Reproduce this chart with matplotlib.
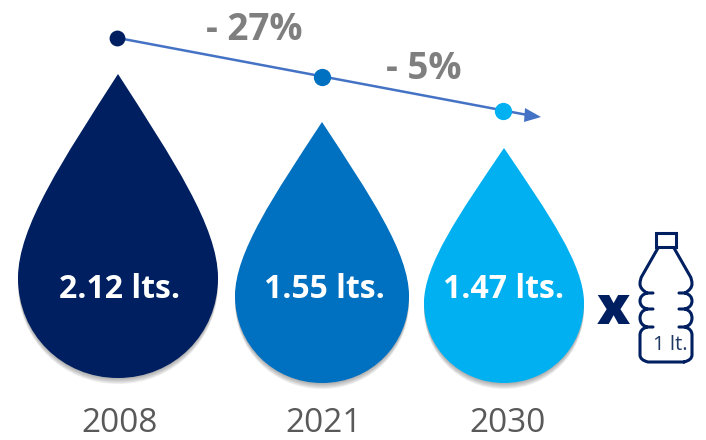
import matplotlib.pyplot as plt
from matplotlib.patches import PathPatch, Polygon
from matplotlib.path import Path

plt.rcParams['font.family'] = ['Open Sans', 'DejaVu Sans']

years = ['2008', '2021', '2030']
litres = ['2.12 lts.', '1.55 lts.', '1.47 lts.']
changes = ['- 27%', '- 5%']
colors = ['#001f60', '#0070c0', '#00b0f0']
line_color = '#4472c4'
navy = '#001f60'

# drop outlines in picture pixels: centre x, tip y, bottom y, half width
drop_x = [118, 322, 504]
drop_top = [74, 122, 148]
drop_bottom = [378, 383, 383]
drop_half = [100, 87, 80]
dot_y = [38, 77, 111]
label_x = [120, 324, 504]
year_x = [119.5, 324, 508]


def drop_path(cx, top, bottom, half):
    belly = bottom - half
    k = half * 0.56
    up = (belly - top) * 0.25
    c1 = (belly - top) * 0.42
    verts = [
        (cx, top),
        (cx + half * 0.55, top + c1), (cx + half, belly - up), (cx + half, belly),
        (cx + half, belly + k), (cx + k, bottom), (cx, bottom),
        (cx - k, bottom), (cx - half, belly + k), (cx - half, belly),
        (cx - half, belly - up), (cx - half * 0.55, top + c1), (cx, top),
    ]
    codes = [Path.MOVETO] + [Path.CURVE4] * 12
    return Path(verts, codes)


def bottle_path():
    cx = 666
    # right side is the left side mirrored
    side = [
        (658, 248), (642, 276), (640, 279), (640, 284), (640, 289), (647, 293),
        (653, 293), (647, 293), (640, 295), (640, 301), (640, 307), (647, 309),
        (653, 309), (647, 309), (640, 311), (640, 318), (640, 325), (647, 327),
        (653, 327), (647, 327), (640, 329), (640, 335), (640, 355), (640, 360), (648, 362),
    ]
    c = Path.CURVE3
    l = Path.LINETO
    kinds = [Path.MOVETO, l, c, c, c, c, l, Path.MOVETO, c, c, c, c, l, Path.MOVETO,
             c, c, c, c, l, Path.MOVETO, c, c, l, c, c]
    verts = list(side) + [(2 * cx - 648, 362)]
    codes = kinds + [l]
    # mirrored copies of each stroke piece
    verts += [(2 * cx - x, y) for x, y in side]
    codes += kinds
    return Path(verts, codes)


fig = plt.figure(figsize=(7.06, 4.4), dpi=100)
ax = fig.add_axes([0, 0, 1, 1])
ax.set_xlim(0, 706)
ax.set_ylim(440, 0)
ax.axis('off')

for i in range(3):
    # soft shadow under each drop
    for off in [6, 5, 4, 3, 2, 1]:
        ax.add_patch(PathPatch(drop_path(drop_x[i], drop_top[i] + off, drop_bottom[i] + off, drop_half[i]),
                               fc='#555555', ec='none', alpha=0.09, zorder=1))
    ax.add_patch(PathPatch(drop_path(drop_x[i], drop_top[i], drop_bottom[i], drop_half[i]),
                           fc=colors[i], ec='none', zorder=2))
    ax.text(label_x[i], 290, litres[i], color='white', fontsize=23, fontweight='bold',
            ha='center', va='center', zorder=3)
    ax.text(year_x[i], 423, years[i], color='#595959', fontsize=24, ha='center', va='center')

# trend arrow
ax.plot([drop_x[0], 525], [dot_y[0], 114.5], color=line_color, lw=1.8, zorder=3)
ax.add_patch(Polygon([(541, 117), (525, 108), (524, 122)], fc=line_color, ec='none', zorder=3))
ax.scatter(drop_x[0] - 1, dot_y[0], s=130, color=colors[0], zorder=4, linewidths=0)
ax.scatter(drop_x[1], dot_y[1], s=155, color=colors[1], zorder=4, linewidths=0)
ax.scatter(drop_x[2] - 1, dot_y[2], s=155, color=colors[2], zorder=4, linewidths=0)

ax.text(254, 30, changes[0], color='#7f7f7f', fontsize=26.5, fontweight='bold', ha='center', va='center')
ax.text(424, 69, changes[1], color='#7f7f7f', fontsize=26.5, fontweight='bold', ha='center', va='center')

# bottle and the x in front of it
ax.add_patch(PathPatch(bottle_path(), fc='none', ec=navy, lw=2.2, capstyle='round', zorder=3))
ax.add_patch(plt.Rectangle((656, 233), 20, 14, fc='none', ec=navy, lw=2.2, zorder=3))
ax.text(613, 310, 'x', color=navy, fontsize=38, fontweight='heavy', ha='center', va='center')
ax.text(670, 345, '1 lt.', color='#1f3864', fontsize=14.5, ha='center', va='center')

fig.savefig('out.png', dpi=100)
